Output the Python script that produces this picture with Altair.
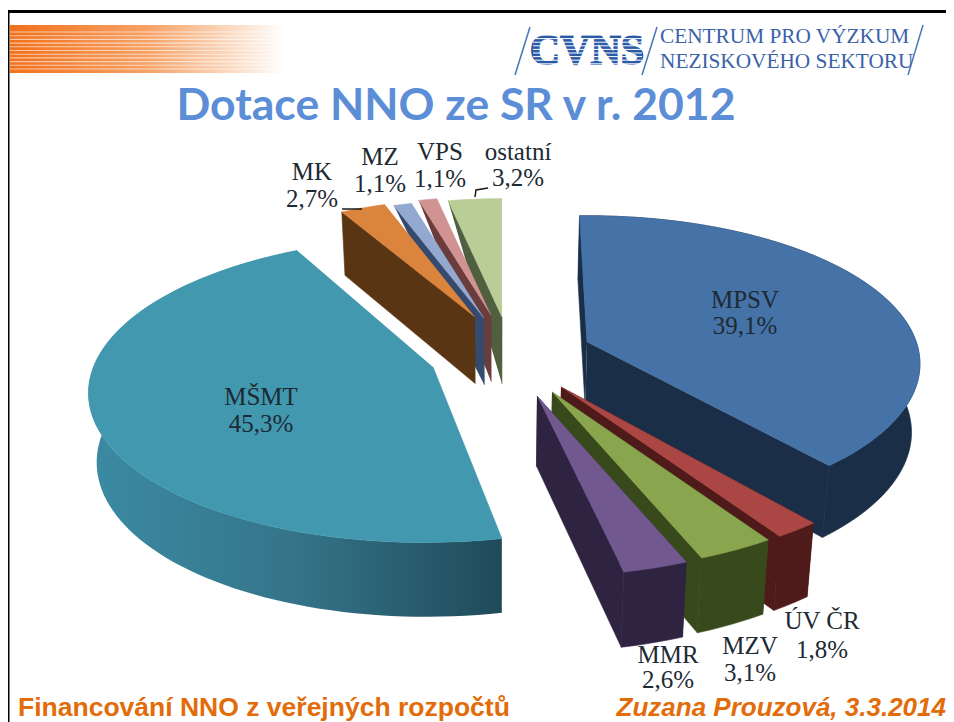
import math
import altair as alt
import pandas as pd

# ---- values ----
categories = ["MPSV", "ÚV ČR", "MZV", "MMR", "MŠMT", "MK", "MZ", "VPS", "ostatní"]
shares = [39.1, 1.8, 3.1, 2.6, 45.3, 2.7, 1.1, 1.1, 3.2]
top_colors = ["#4572a7", "#aa4643", "#89a54e", "#71588f", "#4198af", "#db843d", "#93a9cf", "#d19392", "#b9cd96"]
side_colors = ["#1a2f47", "#4f1a1a", "#38491c", "#2f2342", "#2f7f97", "#5a3513", "#364a6e", "#6b3c3c", "#4f5f3f"]

# ---- layout of the exploded perspective pie ----
apex = [(587, 342), (561, 387), (552, 392), (537, 396), (433, 367), (475, 317), (484, 318), (491, 315), (502, 317)]
reach = [0.96, 1.03, 1.02, 1.02, 0.99, 0.9, 0.9, 0.9, 0.9]
turn = [-1.5, 0, 0, 0, 1, 0, 0, 0, 0]
skew = [0, 0, 0, 0, -0.05, 0, 0, 0, 0]
label_pos = [(745, 300, 326), (822, 621, 650), (750, 646, 673), (668, 655, 680), (261, 397, 424),
             (312, 172, 199), (380, 157, 184), (440, 152, 179), (518, 152, 178)]
AX, AY, P = 343, 151, 0.148

X = alt.X("x:Q", axis=None, scale=alt.Scale(domain=[8, 946], nice=False, zero=False))
Y = alt.Y("y:Q", axis=None, scale=alt.Scale(domain=[722, 8], nice=False, zero=False))
layers = []


def project(c, r, k, deg):
    a = math.radians(deg + turn[k])
    u, v = math.sin(a), -math.cos(a)
    d = 1 - P * v
    dy = r * AY * v / d
    return c[0] + r * AX * u / d + skew[k] * dy, c[1] + dy


def below(p):
    return p[0] - (p[0] - 500) * 0.02, p[1] + 63 + 0.033 * (p[1] - 200)


def poly(pts, fill):
    df = pd.DataFrame({"x": [p[0] for p in pts], "y": [p[1] for p in pts], "i": range(len(pts))})
    layers.append(alt.Chart(df).mark_line(fill=fill, stroke=fill if isinstance(fill, str) else "#2f6f85",
                                          strokeWidth=0.6 if isinstance(fill, str) else 0)
                  .encode(x=X, y=Y, order="i:Q"))


def path(pts, color="#000000", width=1.5, opacity=1.0):
    df = pd.DataFrame({"x": [p[0] for p in pts], "y": [p[1] for p in pts], "i": range(len(pts))})
    layers.append(alt.Chart(df).mark_line(color=color, strokeWidth=width, opacity=opacity)
                  .encode(x=X, y=Y, order="i:Q"))


def text(rows, **kw):
    df = pd.DataFrame(rows, columns=["x", "y", "t"])
    layers.append(alt.Chart(df).mark_text(**kw).encode(x=X, y=Y, text="t:N"))


# ---- frame ----
path([(8, 11.5), (946, 11.5)], "#000000", 3)
path([(8.5, 11), (8.5, 722)], "#000000", 2)

# ---- orange banner ----
banner = pd.DataFrame({"x": [10], "x2": [285], "y": [25], "y2": [73]})
layers.append(alt.Chart(banner).mark_rect(
    fill=alt.Gradient(gradient="linear", x1=0, x2=1, y1=0, y2=0,
                      stops=[alt.GradientStop(color="#f3701a", offset=0),
                             alt.GradientStop(color="#f6a266", offset=0.5),
                             alt.GradientStop(color="#fbd9c0", offset=0.8),
                             alt.GradientStop(color="#ffffff", offset=1)]))
    .encode(x=X, x2="x2:Q", y=Y, y2="y2:Q"))
for s in range(11):
    path([(10, 32 + 3.7 * s), (285, 32 + 3.7 * s)], "#ffffff", 1.1, 0.6)

# ---- logo ----
for a, b in [((515, 75), (530, 27)), ((642, 75), (657, 27)), ((908, 75), (923, 25))]:
    path([a, b], "#4a76b8", 1.5)
text([(587, 51, "CVNS")], font="Liberation Serif", fontSize=42, fontWeight="bold",
     color="#2a5aa5", stroke="#2a5aa5", strokeWidth=1.5, align="center", baseline="middle")
for s in range(9):
    path([(533, 35 + 3.6 * s), (642, 35 + 3.6 * s)], "#ffffff", 1.0)
text([(660, 37, "CENTRUM PRO VÝZKUM"), (660, 62, "NEZISKOVÉHO SEKTORU")], font="Liberation Serif", fontSize=21.3,
     color="#3b62a8", align="left", baseline="middle")

# ---- title ----
text([(456, 107, "Dotace NNO ze  SR  v r. 2012")], font="Lato", fontSize=44.5, fontWeight="bold",
     color="#5b8ed6", align="center", baseline="middle")

# ---- pie: the back cluster is painted right to left, so each slice hides its neighbour's side ----
edges = [0.0]
for share in shares:
    edges.append(edges[-1] + share * 3.6)
for k in [8, 7, 6, 5, 0, 1, 2, 3, 4]:
    start, end = edges[k], edges[k + 1]
    n = max(3, int(shares[k] * 2))
    rim = [project(apex[k], reach[k], k, start + (end - start) * j / n) for j in range(n + 1)]
    c = apex[k]
    sc = side_colors[k]
    if categories[k] in ("MZ", "VPS", "ostatní"):
        poly([rim[0], c, below(c)], sc)
    elif categories[k] == "MK":
        poly([c, rim[0], below(rim[0]), below(c)], sc)
    elif categories[k] == "MŠMT":
        poly(rim + [below(p) for p in reversed(rim)],
             alt.Gradient(gradient="linear", x1=0, x2=1, y1=0, y2=0,
                          stops=[alt.GradientStop(color="#3b8ba3", offset=0),
                                 alt.GradientStop(color="#357489", offset=0.5),
                                 alt.GradientStop(color="#1f4a5a", offset=1)]))
    else:
        poly(rim + [below(p) for p in reversed(rim)], sc)
        poly([c, rim[0], below(rim[0]), below(c)], sc)
        poly([c, rim[-1], below(rim[-1]), below(c)], sc)
    poly([c] + rim, top_colors[k])

# ---- leader lines ----
path([(342, 209), (362, 209)], "#1a1a1a", 1.5)
path([(475, 197), (476, 190), (488, 188)], "#1a1a1a", 1.5)

# ---- data labels ----
rows = []
for name, share, (lx, ly1, ly2) in zip(categories, shares, label_pos):
    rows.append((lx, ly1, name))
    rows.append((lx, ly2, f"{share:.1f}".replace(".", ",") + "%"))
text(rows, font="Liberation Serif", fontSize=25, color="#1d2a33", align="center", baseline="middle")

# ---- footer ----
text([(18, 708, "Financování NNO z veřejných rozpočtů")], font="Liberation Sans", fontSize=26.5, fontWeight="bold",
     color="#e36c0a", align="left", baseline="middle")
text([(946, 708, "Zuzana Prouzová, 3.3.2014")], font="Liberation Sans", fontSize=26, fontWeight="bold",
     fontStyle="italic", color="#e36c0a", align="right", baseline="middle")

chart = alt.layer(*layers).properties(width=938, height=714, padding=0, autosize=alt.AutoSizeParams(type="none")
                                      ).configure_view(stroke=None)
chart.save("out.html", embed_options={"renderer": "svg", "actions": False})
